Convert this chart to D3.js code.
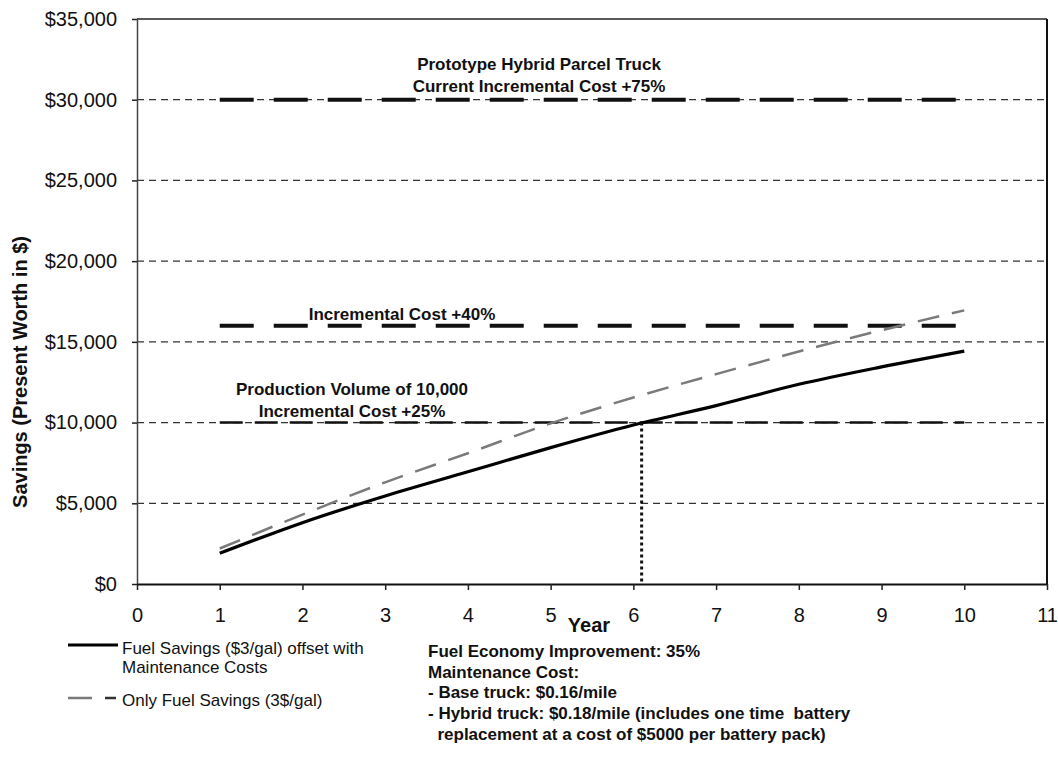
<!DOCTYPE html>
<html>
<head>
<meta charset="utf-8">
<script src="https://cdn.jsdelivr.net/npm/d3@7"></script>
<style>
  html, body { margin: 0; padding: 0; background: #fff; }
  svg { display: block; }
  text { font-family: "Liberation Sans", Arial, Helvetica, sans-serif; fill: #111; }
</style>
</head>
<body>
<svg id="chart" width="1058" height="759"></svg>
<script>
// ---------- data ----------
const years = [1, 2, 3, 4, 5, 6, 7, 8, 9, 10];
const fuelWithMaintenance = [1900, 3800, 5450, 6950, 8450, 9850, 11050, 12370, 13450, 14430];
const fuelOnly = [2200, 4300, 6300, 8100, 9950, 11550, 13000, 14400, 15720, 16950];

const xTicks = [0, 1, 2, 3, 4, 5, 6, 7, 8, 9, 10, 11];
const yTicks = [0, 5000, 10000, 15000, 20000, 25000, 30000, 35000];
const gridValues = [5000, 10000, 15000, 20000, 25000, 30000];

const costLevels = [30000, 16000, 10000];
const costLabels = [
  ["Prototype Hybrid Parcel Truck", "Current Incremental Cost +75%"],
  ["Incremental Cost +40%"],
  ["Production Volume of 10,000", "Incremental Cost +25%"]
];
const breakEvenYear = 6.1;
const breakEvenValue = 10000;

const legendLabels = [
  ["Fuel Savings ($3/gal) offset with", "Maintenance Costs"],
  ["Only Fuel Savings (3$/gal)"]
];
const notes = [
  "Fuel Economy Improvement: 35%",
  "Maintenance Cost:",
  "- Base truck: $0.16/mile",
  "- Hybrid truck: $0.18/mile (includes one time  battery",
  "  replacement at a cost of $5000 per battery pack)"
];

// ---------- layout ----------
const svg = d3.select("#chart");
const plotL = 137, plotR = 1047, plotT = 19, plotB = 584;
const x = d3.scaleLinear().domain([0, 11]).range([plotL, plotR]);
const y = d3.scaleLinear().domain([0, 35000]).range([plotB, plotT]);

// gridlines
svg.append("g").selectAll("line").data(gridValues).join("line")
  .attr("x1", plotL).attr("x2", plotR)
  .attr("y1", d => y(d)).attr("y2", d => y(d))
  .attr("stroke", "#333").attr("stroke-width", 1.2)
  .attr("stroke-dasharray", "7,5");

// frame top & right
svg.append("line").attr("x1", plotL).attr("x2", plotR)
  .attr("y1", y(35000)).attr("y2", y(35000))
  .attr("stroke", "#222").attr("stroke-width", 1.5);
svg.append("line").attr("x1", plotR).attr("x2", plotR)
  .attr("y1", y(35000)).attr("y2", y(0))
  .attr("stroke", "#111").attr("stroke-width", 2);

// y axis
const yAxis = svg.append("g").attr("transform", `translate(${plotL},0)`)
  .call(d3.axisLeft(y).tickValues(yTicks)
    .tickFormat(d => "$" + d3.format(",")(d))
    .tickSize(5).tickSizeOuter(0).tickPadding(15));
yAxis.select(".domain").attr("stroke", "#444").attr("stroke-width", 1.5);
yAxis.selectAll(".tick line").attr("stroke", "#222").attr("stroke-width", 1.5);
yAxis.selectAll("text").attr("font-size", 20).attr("fill", "#111")
  .style("font-family", "'Liberation Sans', Arial, sans-serif");

// x axis
const xAxis = svg.append("g").attr("transform", `translate(0,${plotB})`)
  .call(d3.axisBottom(x).tickValues(xTicks).tickFormat(d3.format("d"))
    .tickSize(6).tickSizeOuter(0).tickPadding(18));
xAxis.select(".domain").attr("stroke", "#111").attr("stroke-width", 2);
xAxis.selectAll(".tick line").attr("stroke", "#222").attr("stroke-width", 1.5);
xAxis.selectAll("text").attr("font-size", 20).attr("fill", "#111")
  .style("font-family", "'Liberation Sans', Arial, sans-serif");

// axis titles
svg.append("text").attr("transform", "translate(27,372) rotate(-90)")
  .attr("text-anchor", "middle").attr("font-size", 20).attr("font-weight", "bold")
  .text("Savings (Present Worth in $)");
svg.append("text").attr("x", 589).attr("y", 632)
  .attr("text-anchor", "middle").attr("font-size", 20).attr("font-weight", "bold")
  .text("Year");

// cost level lines
const costStyles = [
  { w: 4, dash: "34,20" },
  { w: 4, dash: "34,20" },
  { w: 2.5, dash: "23,12" }
];
costLevels.forEach((v, i) => {
  svg.append("line")
    .attr("x1", x(years[0])).attr("x2", x(years[years.length - 1]))
    .attr("y1", y(v)).attr("y2", y(v))
    .attr("stroke", "#111").attr("stroke-width", costStyles[i].w)
    .attr("stroke-dasharray", costStyles[i].dash);
});

// cost labels
const labelPos = [
  { cx: 539, base: 70 },
  { cx: 402, base: 320 },
  { cx: 352, base: 395 }
];
costLabels.forEach((lines, i) => {
  lines.forEach((t, j) => {
    svg.append("text").attr("x", labelPos[i].cx).attr("y", labelPos[i].base + j * 22)
      .attr("text-anchor", "middle").attr("font-size", 17).attr("font-weight", "bold")
      .text(t);
  });
});

// series
const line = d3.line().x(d => x(d[0])).y(d => y(d[1])).curve(d3.curveMonotoneX);
svg.append("path").datum(years.map((yr, i) => [yr, fuelOnly[i]]))
  .attr("d", line).attr("fill", "none")
  .attr("stroke", "#7a7a7a").attr("stroke-width", 2.5)
  .attr("stroke-dasharray", "22,13");
svg.append("path").datum(years.map((yr, i) => [yr, fuelWithMaintenance[i]]))
  .attr("d", line).attr("fill", "none")
  .attr("stroke", "#000").attr("stroke-width", 3.2);

// break-even dotted line
svg.append("line")
  .attr("x1", x(breakEvenYear)).attr("x2", x(breakEvenYear))
  .attr("y1", y(breakEvenValue)).attr("y2", y(0))
  .attr("stroke", "#111").attr("stroke-width", 3)
  .attr("stroke-dasharray", "3,3");

// legend
svg.append("line").attr("x1", 68).attr("x2", 118).attr("y1", 645).attr("y2", 645)
  .attr("stroke", "#000").attr("stroke-width", 3);
svg.append("line").attr("x1", 68).attr("x2", 92).attr("y1", 698).attr("y2", 698)
  .attr("stroke", "#7a7a7a").attr("stroke-width", 2.5);
svg.append("line").attr("x1", 105).attr("x2", 116).attr("y1", 698).attr("y2", 698)
  .attr("stroke", "#333").attr("stroke-width", 2.5);
const legendBase = [654, 706];
legendLabels.forEach((lines, i) => {
  lines.forEach((t, j) => {
    svg.append("text").attr("x", 122).attr("y", legendBase[i] + j * 19)
      .attr("font-size", 17).text(t);
  });
});

// notes
notes.forEach((t, i) => {
  svg.append("text").attr("x", 428).attr("y", 657 + i * 20.7)
    .attr("font-size", 17).attr("font-weight", "bold")
    .attr("xml:space", "preserve").style("white-space", "pre")
    .text(t);
});
</script>
</body>
</html>
